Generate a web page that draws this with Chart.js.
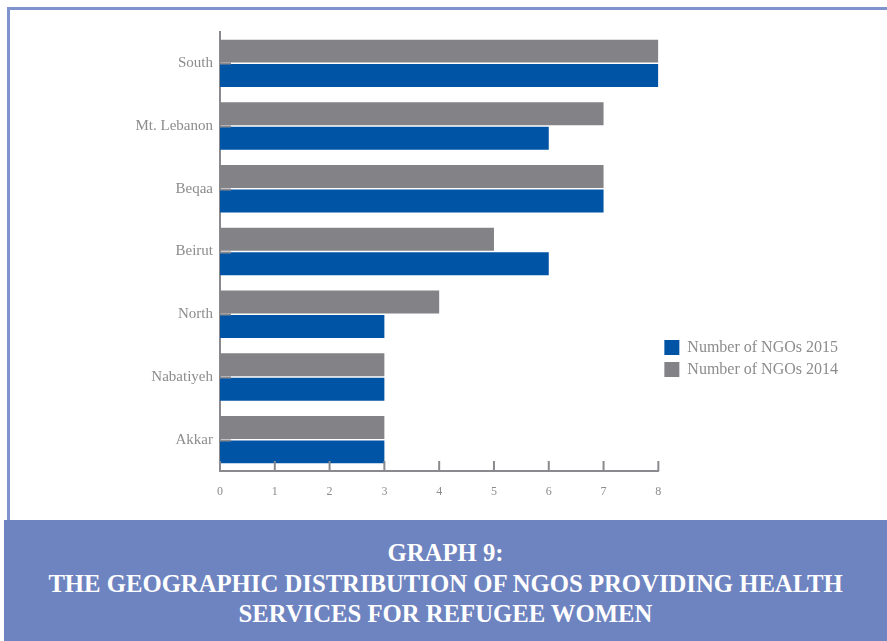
<!DOCTYPE html>
<html>
<head>
<meta charset="utf-8">
<script src="https://cdn.jsdelivr.net/npm/chart.js@4.4.1/dist/chart.umd.min.js"></script>
<style>
  html, body { margin: 0; padding: 0; background: #fff; }
  #wrap { position: relative; width: 887px; height: 641px; overflow: hidden; }
  #frame { position: absolute; left: 7px; top: 7px; width: 900px; height: 520px;
           border-left: 3px solid #7f93cd; border-top: 3px solid #7f93cd; }
  #chartBox { position: absolute; left: 0; top: 0; width: 887px; height: 520px; }
  #banner { position: absolute; left: 4px; top: 520px; width: 883px; height: 121px;
            background: #6e84c0; color: #fff; text-align: center;
            font-family: "Liberation Serif", "DejaVu Serif", serif; font-weight: bold;
            font-size: 26px; line-height: 30.5px; padding-top: 18px; box-sizing: border-box; }
  #banner span { display: block; transform: scaleX(0.95); transform-origin: center; white-space: nowrap; }
</style>
</head>
<body>
<div id="wrap">
  <div id="frame"></div>
  <div id="chartBox"><canvas id="chart" width="887" height="520"></canvas></div>
  <div id="banner">
    <span>GRAPH 9:</span>
    <span>THE GEOGRAPHIC DISTRIBUTION OF NGOS PROVIDING HEALTH</span>
    <span>SERVICES FOR REFUGEE WOMEN</span>
  </div>
</div>
<script>
const regions = ['South', 'Mt. Lebanon', 'Beqaa', 'Beirut', 'North', 'Nabatiyeh', 'Akkar'];
const ngos2014 = [8, 7, 7, 5, 4, 3, 3];
const ngos2015 = [8, 6, 7, 6, 3, 3, 3];
const xTicks = [0, 1, 2, 3, 4, 5, 6, 7, 8];

const axisColor = '#8a8a8e';
const labelColor = '#8c8c8c';
const serif = '"Liberation Serif", "DejaVu Serif", serif';

// short tick marks pointing into the plot, on both axes
const innerTicks = {
  id: 'innerTicks',
  afterDatasetsDraw(chart) {
    const { ctx, chartArea, scales } = chart;
    ctx.save();
    ctx.strokeStyle = axisColor;
    ctx.lineWidth = 2;
    ctx.beginPath();
    xTicks.forEach(v => {
      const x = scales.x.getPixelForValue(v);
      ctx.moveTo(x, chartArea.bottom);
      ctx.lineTo(x, chartArea.bottom - 10);
    });
    regions.forEach((r, i) => {
      const y = Math.round(scales.y.getPixelForValue(i)) + 0.5;
      ctx.moveTo(chartArea.left, y);
      ctx.lineTo(chartArea.left + 11, y);
    });
    ctx.stroke();
    ctx.restore();
  }
};

// push the legend block down a bit below the vertical centre
const legendShift = {
  id: 'legendShift',
  afterLayout(chart) {
    chart.legend.top += 87;
    chart.legend.bottom += 87;
  }
};

new Chart(document.getElementById('chart'), {
  type: 'bar',
  data: {
    labels: regions,
    datasets: [
      { label: 'Number of NGOs 2014', data: ngos2014, backgroundColor: '#838387' },
      { label: 'Number of NGOs 2015', data: ngos2015, backgroundColor: '#0054a5' }
    ]
  },
  options: {
    indexAxis: 'y',
    responsive: false,
    animation: false,
    categoryPercentage: 0.78,
    barPercentage: 0.94,
    layout: { padding: { top: 32, bottom: 9, left: 0, right: 39 } },
    plugins: {
      legend: {
        position: 'right',
        reverse: true,
        labels: {
          boxWidth: 15, boxHeight: 15, padding: 6,
          color: labelColor,
          font: { family: serif, size: 16 }
        }
      },
      tooltip: { enabled: false }
    },
    scales: {
      x: {
        min: 0, max: 8,
        afterFit: s => { s.height = 40; },
        grid: { display: false },
        border: { display: true, color: axisColor, width: 2 },
        ticks: { stepSize: 1, color: labelColor, padding: 6, font: { family: serif, size: 12 } }
      },
      y: {
        afterFit: s => { s.width = 220; },
        grid: { display: false, drawTicks: false },
        border: { display: true, color: axisColor, width: 2 },
        ticks: { color: labelColor, padding: 7, font: { family: serif, size: 15 } }
      }
    }
  },
  plugins: [innerTicks, legendShift]
});
</script>
</body>
</html>
